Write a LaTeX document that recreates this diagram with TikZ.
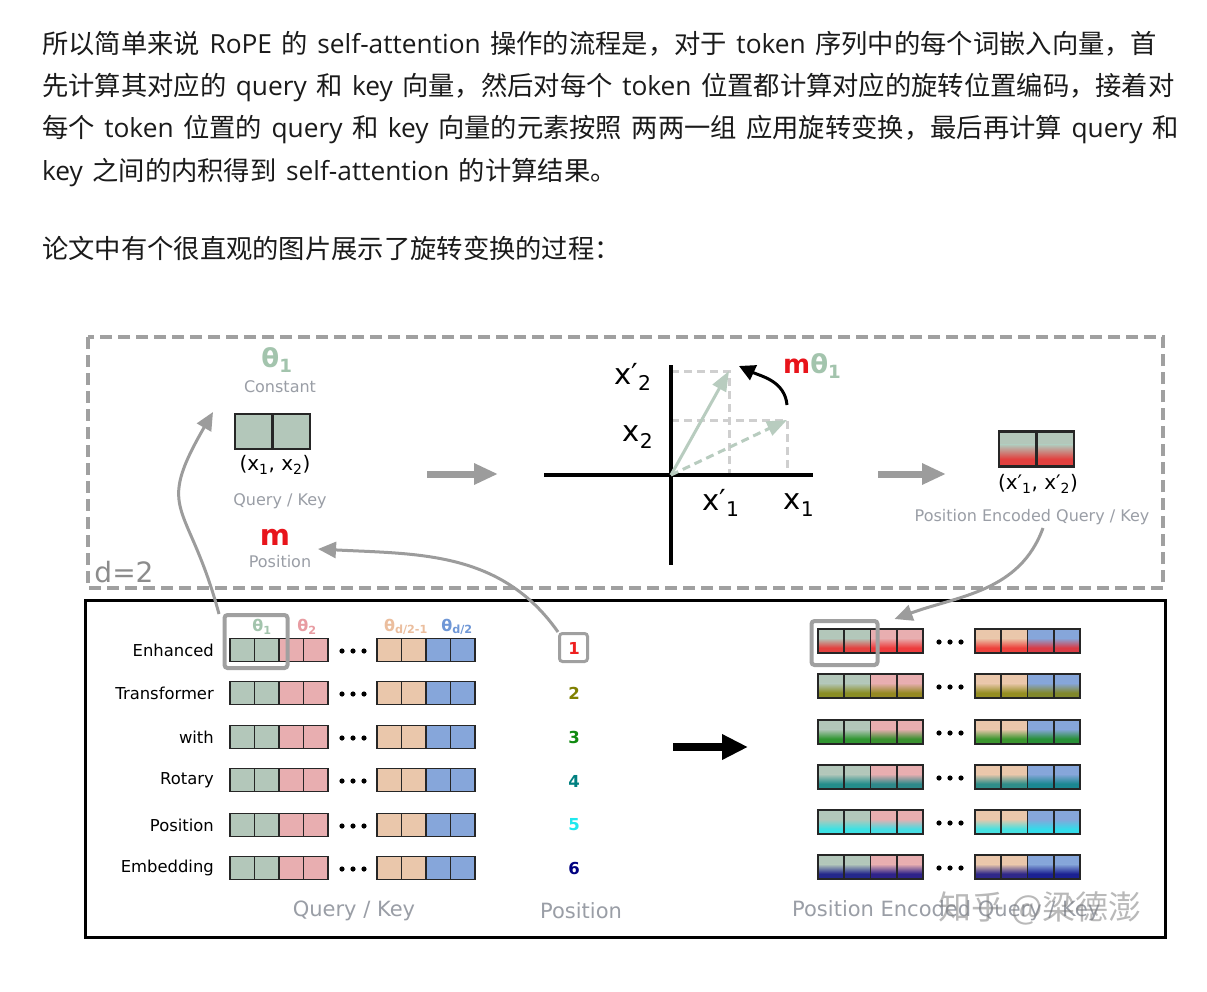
\documentclass[tikz,border=0pt]{standalone}
\usepackage{fontspec}
\setmainfont{DejaVu Sans}
\newfontfamily\cjk{Noto Sans CJK SC}
\newfontfamily\latf{Open Sans}
\usetikzlibrary{arrows.meta,calc}
\definecolor{qgreen}{HTML}{B3C7BA}
\definecolor{qpink}{HTML}{E8AEB0}
\definecolor{qpeach}{HTML}{EAC7AB}
\definecolor{qblue}{HTML}{86A6DA}
\definecolor{lbl}{HTML}{9A9EA6}
\definecolor{thgreen}{HTML}{A3C4AD}
\definecolor{thpink}{HTML}{E89CA2}
\definecolor{thpeach}{HTML}{EBBE9E}
\definecolor{thblue}{HTML}{6F97D6}
\definecolor{arrgray}{HTML}{9C9C9C}
\definecolor{boxgray}{HTML}{A0A0A0}
\definecolor{guide}{HTML}{CFCFCF}
\definecolor{vec}{HTML}{B8CCBF}
\definecolor{mred}{HTML}{E8141B}
\definecolor{txt}{HTML}{1A1A1A}
\definecolor{pos1}{HTML}{EE2020}
\definecolor{pos2}{HTML}{808000}
\definecolor{pos3}{HTML}{108A10}
\definecolor{pos4}{HTML}{008080}
\definecolor{pos5}{HTML}{20E8EE}
\definecolor{pos6}{HTML}{000080}
\newcommand\fsz[1]{\fontsize{#1}{#1}\selectfont}
\newcommand\lat[1]{{\latf #1}}
\newcommand\spc{\hspace{9.5pt}}
\newcommand\pr{′}
% gradient cell: x, y, w, h, base, pos
\newcommand\gcell[6]{%
  \fill[#5] ({#1-#3/2},{#2-#4/2}) rectangle ({#1+#3/2},{#2+#4/2});
  \shade[top color=#5, bottom color=#6] ({#1-#3/2},{#2-#4/2+0.38*#4}) rectangle ({#1+#3/2},{#2-#4/2+0.78*#4});
  \fill[#6] ({#1-#3/2},{#2-#4/2+0.78*#4}) rectangle ({#1+#3/2},{#2+#4/2});
}
\tikzset{
  para/.style={anchor=base west, text=txt, inner sep=0pt, font=\cjk\fsz{26.3}},
  lab/.style={text=lbl, inner sep=0pt, font=\fsz{16}},
  biglab/.style={text=lbl, inner sep=0pt, font=\fsz{21}},
  rowlab/.style={anchor=east, inner sep=0pt, font=\fsz{16.4}},
  axlab/.style={inner sep=0pt, font=\fsz{29}},
  cellL/.style={draw=black!85, line width=1.8pt, minimum width=24.5pt, minimum height=23pt, inner sep=0pt, outer sep=0pt},
  cellR/.style={draw=black!85, line width=1.8pt, minimum width=26.25pt, minimum height=24pt, inner sep=0pt, outer sep=0pt},
  cellT/.style={draw=black!85, line width=2.4pt, minimum width=37.5pt, minimum height=35pt, inner sep=0pt, outer sep=0pt},
  hl/.style={draw=boxgray, line width=4pt, rounded corners=3pt, inner sep=0pt},
  bigarrow/.style={draw=arrgray, line width=7pt, -{Triangle[length=24pt,width=20pt]}},
  curvearrow/.style={draw=arrgray, line width=3pt, -{Triangle[length=18pt,width=16pt]}},
  num/.style={inner sep=0pt, font=\bfseries\fsz{16.5}},
  thl/.style={inner sep=0pt, font=\bfseries\fsz{16}},
}
\begin{document}
\begin{tikzpicture}[x=1pt,y=-1pt]
\useasboundingbox[fill=white] (0,0) rectangle (1207,992);

% ---------- paragraph ----------
\node[para] (t1) at (42,54) {所以简单来说\spc{}\lat{RoPE}\spc{}的\spc{}\lat{self-attention}\spc{}操作的流程是，对于\spc{}\lat{token}\spc{}序列中的每个词嵌入向量，首};
\node[para] (t2) at (42,96) {先计算其对应的\spc{}\lat{query}\spc{}和\spc{}\lat{key}\spc{}向量，然后对每个\spc{}\lat{token}\spc{}位置都计算对应的旋转位置编码，接着对};
\node[para] (t3) at (42,138) {每个\spc{}\lat{token}\spc{}位置的\spc{}\lat{query}\spc{}和\spc{}\lat{key}\spc{}向量的元素按照\spc{}两两一组\spc{}应用旋转变换，最后再计算\spc{}\lat{query}\spc{}和};
\node[para] (t4) at (42,181) {\lat{key}\spc{}之间的内积得到\spc{}\lat{self-attention}\spc{}的计算结果。};
\node[para] (t5) at (42,259) {论文中有个很直观的图片展示了旋转变换的过程：};

% ---------- frames ----------
\draw[boxgray, line width=4pt, dash pattern=on 12pt off 6pt] (88,337) rectangle (1163,588);
\draw[black, line width=3pt] (85,600) rectangle (1165,937);

% ---------- top-left ----------
\node[inner sep=0pt, text=thgreen, font=\bfseries\fsz{26}] (th1) at (277,360) {θ\textsubscript{1}};
\node[lab] (const) at (280,387) {Constant};
\node[cellT, fill=qgreen] (qk1) at (253.75,431.5) {};
\node[cellT, fill=qgreen] (qk2) at (291.25,431.5) {};
\node[inner sep=0pt, font=\fsz{20}] (xx) at (275,465) {(x\textsubscript{1}, x\textsubscript{2})};
\node[lab] (qklab) at (280,501) {Query / Key};
\node[inner sep=0pt, text=mred, font=\bfseries\fsz{29}] (mm) at (275,537) {m};
\node[lab] (poslab) at (280,562) {Position};
\node[inner sep=0pt, text=black!45, font=\fsz{28}] (d2) at (124,572) {d=2};

\coordinate (a1s) at (427,474);
\coordinate (a1e) at (498,474);
\draw[bigarrow] (a1s) -- (a1e);

% ---------- rotation plot ----------
\coordinate (O) at (671,475);
\coordinate (xl) at (544,475);
\coordinate (xr) at (813,475);
\coordinate (yt) at (671,365);
\coordinate (yb) at (671,565);
\coordinate (v1) at (787,420);
\coordinate (v2) at (729,371);
\draw[guide, line width=3pt, dash pattern=on 8pt off 5pt] (O |- v2) -- (v2) -- (v2 |- O);
\draw[guide, line width=3pt, dash pattern=on 8pt off 5pt] (O |- v1) -- (v1) -- (v1 |- O);
\draw[black, line width=4pt] (xl) -- (xr);
\draw[black, line width=4pt] (yt) -- (yb);
\draw[vec, line width=3pt, dash pattern=on 8pt off 5pt, -{Triangle[length=20pt,width=15pt]}] (O) -- (v1);
\draw[vec, line width=3pt, -{Triangle[length=20pt,width=15pt]}] (O) -- (v2);
\node[axlab] (lx2p) at (633,377) {x\pr\textsubscript{2}};
\node[axlab] (lx2) at (638,437) {x\textsubscript{2}};
\node[axlab] (lx1p) at (721,503) {x\pr\textsubscript{1}};
\node[axlab] (lx1) at (799,505) {x\textsubscript{1}};
\coordinate (rs) at (787,405);
\coordinate (re) at (739,366);
\draw[black, line width=3pt, -{Triangle[length=16pt,width=16pt]}] (rs) to[out=95,in=-25] (re);
\node[inner sep=0pt, font=\bfseries\fsz{26}, anchor=west] (mth) at (783,366) {\textcolor{mred}{m}\textcolor{thgreen}{θ\textsubscript{1}}};

\coordinate (a2s) at (878,474);
\coordinate (a2e) at (946,474);
\draw[bigarrow] (a2s) -- (a2e);

% ---------- top-right ----------
\gcell{1017.75}{449}{37.5}{35}{qgreen}{pos1!80!qgreen}
\gcell{1055.25}{449}{37.5}{35}{qgreen}{pos1!80!qgreen}
\node[cellT] (pq1) at (1017.75,449) {};
\node[cellT] (pq2) at (1055.25,449) {};
\node[inner sep=0pt, font=\fsz{20}] (xxp) at (1038,484) {(x\pr\textsubscript{1}, x\pr\textsubscript{2})};
\node[lab] (peqk) at (1032,517) {Position Encoded Query / Key};

% ---------- bottom: left rows ----------
\foreach \r/\y/\w in {1/650/Enhanced,2/693/Transformer,3/737/with,4/780/Rotary,5/825/Position,6/868/Embedding}{
  \node[rowlab] (rl\r) at (214,\y) {\w};
  \foreach \i/\c in {0/qgreen,1/qgreen,2/qpink,3/qpink}{
    \node[cellL, fill=\c] (La\r\i) at ({242.25+24.5*\i},\y) {};
  }
  \foreach \i/\c in {0/qpeach,1/qpeach,2/qblue,3/qblue}{
    \node[cellL, fill=\c] (Lb\r\i) at ({389.25+24.5*\i},\y) {};
  }
  \foreach \d in {-11,0,11}{\fill (353+\d,\y+1) circle (2.6pt);}
}
\node[thl, text=thgreen] (tl1) at (262,627) {θ\textsubscript{1}};
\node[thl, text=thpink] (tl2) at (307,627) {θ\textsubscript{2}};
\node[thl, text=thpeach] (tl3) at (406,627) {θ\textsubscript{d/2-1}};
\node[thl, text=thblue] (tl4) at (457,627) {θ\textsubscript{d/2}};
\node[hl, minimum width=63pt, minimum height=53pt] (hlL) at (256,641.5) {};

% positions
\node[num, text=pos1] (p1) at (574,648) {1};
\node[hl, line width=3pt, minimum width=28pt, minimum height=28pt] (p1box) at (573.5,647.5) {};
\node[num, text=pos2] (p2) at (574,693) {2};
\node[num, text=pos3] (p3) at (574,737) {3};
\node[num, text=pos4] (p4) at (574,781) {4};
\node[num, text=pos5] (p5) at (574,825) {5};
\node[num, text=pos6] (p6) at (574,868) {6};

\coordinate (a3s) at (673,747);
\coordinate (a3e) at (748,747);
\draw[black, line width=8pt, -{Triangle[length=26pt,width=24pt]}] (a3s) -- (a3e);

% ---------- bottom: right rows ----------
\foreach \r/\y/\p in {1/641/pos1,2/686/pos2,3/732/pos3,4/777/pos4,5/822/pos5,6/867/pos6}{
  \foreach \i/\c in {0/qgreen,1/qgreen,2/qpink,3/qpink}{
    \gcell{831.125+26.25*\i}{\y}{26.25}{24}{\c}{\p!80!\c}
    \node[cellR] (Ra\r\i) at ({831.125+26.25*\i},\y) {};
  }
  \foreach \i/\c in {0/qpeach,1/qpeach,2/qblue,3/qblue}{
    \gcell{988.125+26.25*\i}{\y}{26.25}{24}{\c}{\p!80!\c}
    \node[cellR] (Rb\r\i) at ({988.125+26.25*\i},\y) {};
  }
  \foreach \d in {-11,0,11}{\fill (950+\d,\y+1) circle (2.6pt);}
}
\node[hl, minimum width=66pt, minimum height=44pt] (hlR) at (844.5,643) {};

% ---------- bottom labels ----------
\node[biglab] (bq) at (354,911) {Query / Key};
\node[biglab] (bp) at (581,911) {Position};
\node[biglab, anchor=west] (bpe) at (792,911) {Position Encoded Query / Key};
\node[inner sep=0pt, text=gray, opacity=0.55, font=\cjk\fsz{33}, anchor=west] (wm) at (938,908) {知乎 @梁德澎};

% ---------- curved connectors ----------
\coordinate (cLs) at (219,614);
\coordinate (cLe) at (213,412);
\draw[curvearrow] (cLs) to[out=105,in=-120,looseness=1.5] (cLe);
\coordinate (cMe) at (318,549);
\draw[curvearrow] (p1box.north west) to[out=125,in=-3] (cMe);
\coordinate (cRs) at (1043,528);
\draw[curvearrow] (cRs) to[out=-110,in=20] ($(hlR.north east)+(15,0)$);
\end{tikzpicture}
\end{document}
